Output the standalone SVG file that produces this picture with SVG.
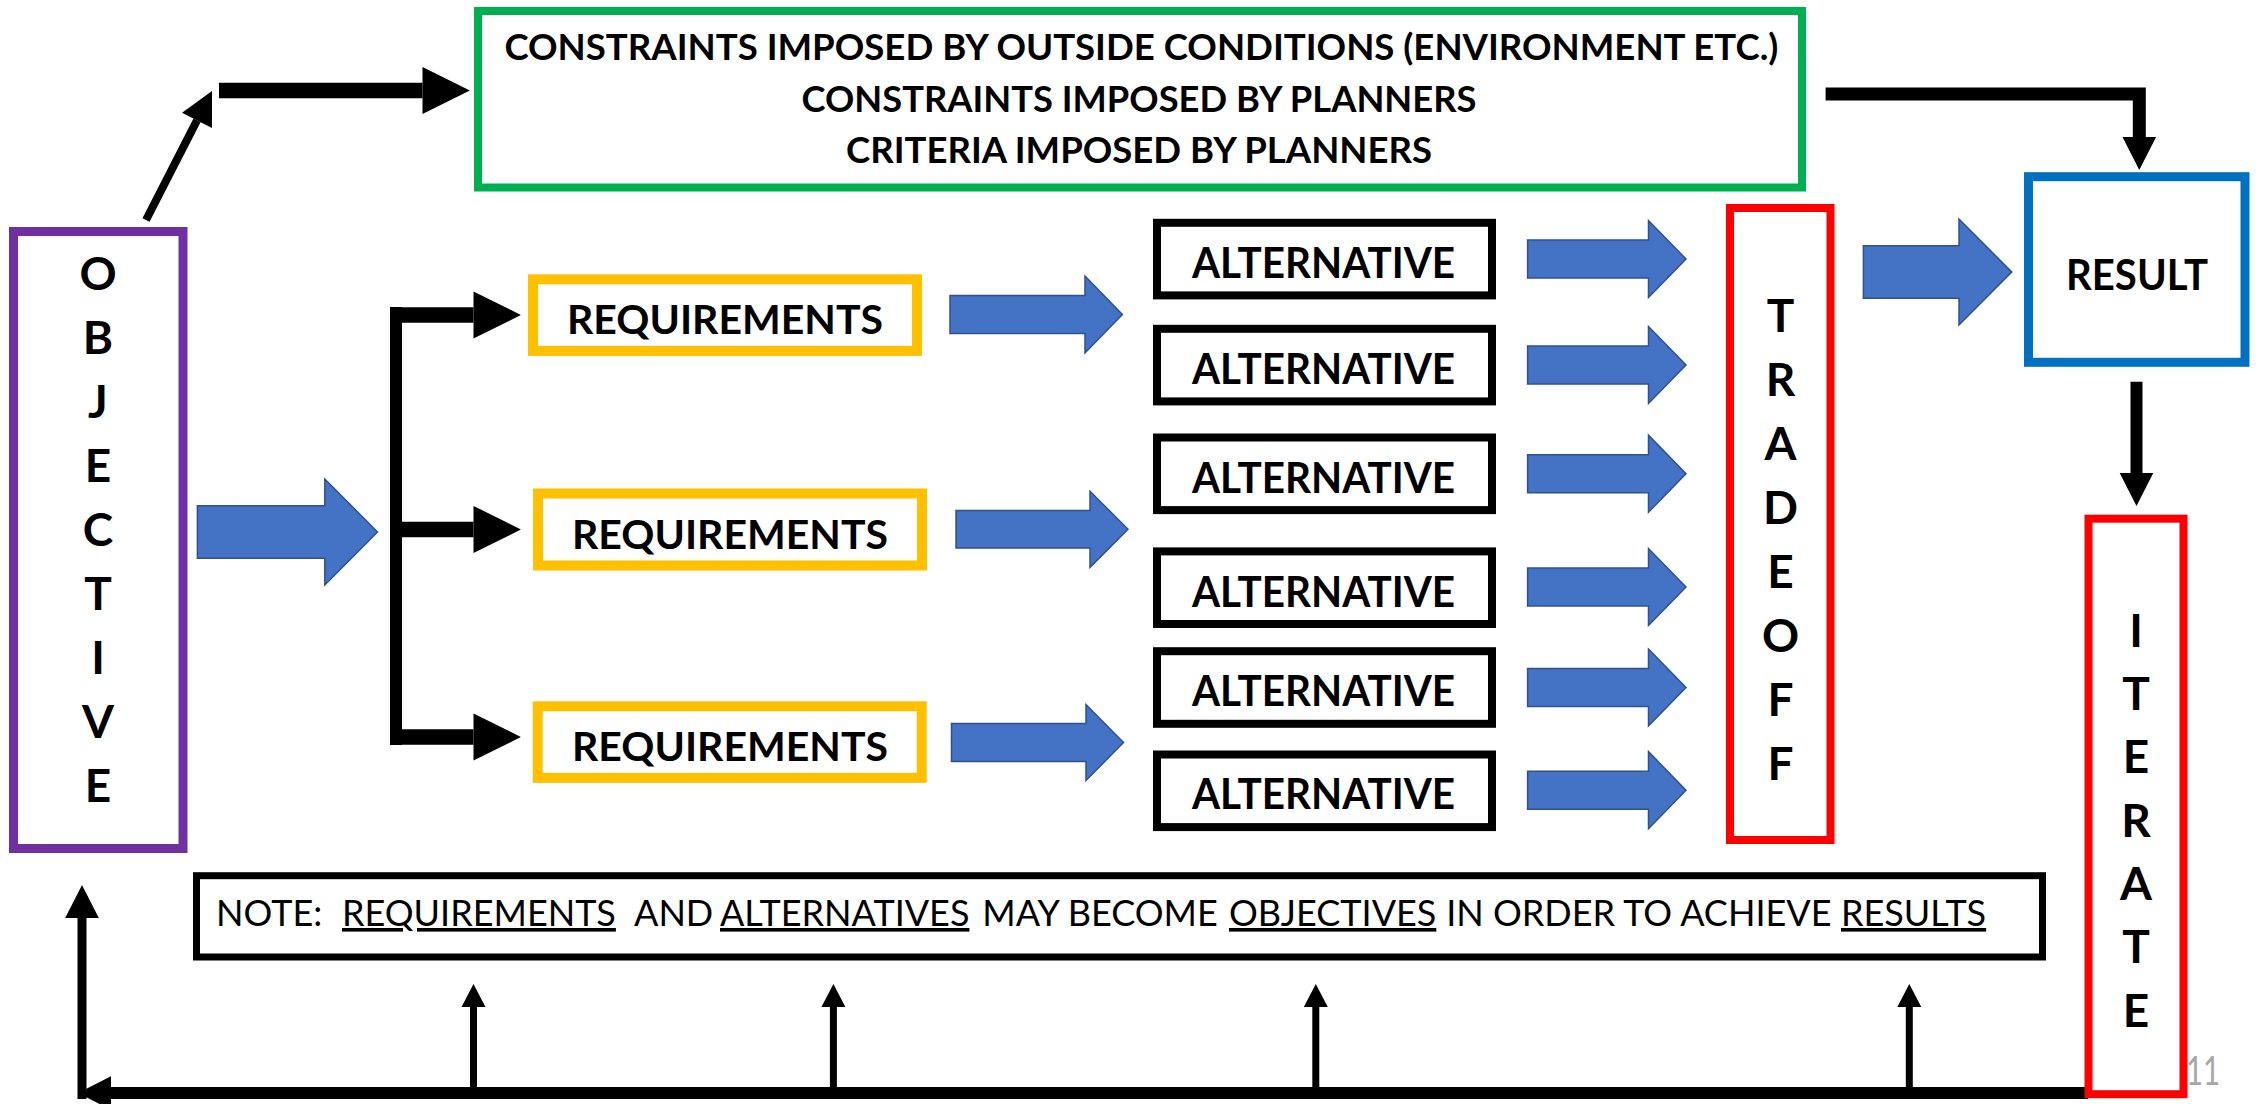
<svg xmlns="http://www.w3.org/2000/svg" xmlns:xlink="http://www.w3.org/1999/xlink" width="2259" height="1104" viewBox="0 0 2259 1104">
<style>
.bx{fill:#ffffff}
.t{font-family:Lato,"Liberation Sans",Arial,sans-serif;fill:#000}
.b{font-weight:bold}
.let{font-family:Lato,"Liberation Sans",Arial,sans-serif;font-weight:bold;font-size:46px;text-anchor:middle;fill:#000}
.ln{fill:none;stroke:#000;stroke-linejoin:miter}
.blue{fill:#4472C4;stroke:#2F528F;stroke-width:1.5}
.u{text-decoration:underline}
</style>
<defs>
<marker id="hL" markerUnits="userSpaceOnUse" markerWidth="50" markerHeight="50" viewBox="0 -25 50 50" refX="0" refY="0" orient="auto" overflow="visible"><path d="M0,-23.6 L47.4,0 L0,23.6 Z" fill="#000"/></marker>
<marker id="hM" markerUnits="userSpaceOnUse" markerWidth="36" markerHeight="36" viewBox="0 -18 36 36" refX="0" refY="0" orient="auto" overflow="visible"><path d="M0,-16.8 L33,0 L0,16.8 Z" fill="#000"/></marker>
<marker id="hS" markerUnits="userSpaceOnUse" markerWidth="26" markerHeight="26" viewBox="0 -13 26 26" refX="0" refY="0" orient="auto" overflow="visible"><path d="M0,-12 L23,0 L0,12 Z" fill="#000"/></marker>
<path id="altArrow" d="M1527.6,-19 H1648.5 V-38.5 L1686,0 L1648.5,38.5 V19 H1527.6 Z"/>
</defs>

<g id="page-number">
<text class="t" x="2186" y="1085" font-size="40" fill="#A6A6A6" style="fill:#A6A6A6" textLength="34" lengthAdjust="spacingAndGlyphs">11</text>
</g>

<g id="connectors">
<path class="ln" d="M146,220 L197,120.4" stroke-width="8" marker-end="url(#hM)"/>
<path class="ln" d="M219,90.5 H422.5" stroke-width="15.6" marker-end="url(#hL)"/>
<path class="ln" d="M1825.6,94 H2139.3 V137" stroke-width="13" marker-end="url(#hM)"/>
<path class="ln" d="M2136.5,381.8 V473" stroke-width="12" marker-end="url(#hM)"/>
<path class="ln" d="M396,307 V745" stroke-width="12"/>
<path class="ln" d="M390,315 H473.5" stroke-width="15.5" marker-end="url(#hL)"/>
<path class="ln" d="M390,529.5 H473.5" stroke-width="15.5" marker-end="url(#hL)"/>
<path class="ln" d="M390,737 H473.5" stroke-width="15.5" marker-end="url(#hL)"/>
<path class="ln" d="M2088,1093 H111" stroke-width="12" marker-end="url(#hM)"/>
<path class="ln" d="M82,1099 V918" stroke-width="9" marker-end="url(#hM)"/>
<path class="ln" d="M473.5,1088 V1007" stroke-width="7" marker-end="url(#hS)"/>
<path class="ln" d="M833.4,1088 V1007" stroke-width="7" marker-end="url(#hS)"/>
<path class="ln" d="M1315.8,1088 V1007" stroke-width="7" marker-end="url(#hS)"/>
<path class="ln" d="M1909.3,1088 V1007" stroke-width="7" marker-end="url(#hS)"/>
<polygon class="blue" points="197.4,505.65 324.8,505.65 324.8,479 377.5,532 324.8,585 324.8,558.35 197.4,558.35"/>
<polygon class="blue" points="1863.4,245.7 1959,245.7 1959,219 2011.8,272 1959,325 1959,298.3 1863.4,298.3"/>
<polygon class="blue" points="950,295.6 1085,295.6 1085,276 1122.4,314.5 1085,353 1085,333.4 950,333.4"/>
<polygon class="blue" points="956,510.6 1090,510.6 1090,491.2 1128,529.3 1090,567.4 1090,548 956,548"/>
<polygon class="blue" points="951.5,723.6 1086,723.6 1086,704.5 1123.5,742.5 1086,780.5 1086,761.4 951.5,761.4"/>
<use xlink:href="#altArrow" class="blue" y="259"/>
<use xlink:href="#altArrow" class="blue" y="365"/>
<use xlink:href="#altArrow" class="blue" y="473.7"/>
<use xlink:href="#altArrow" class="blue" y="587"/>
<use xlink:href="#altArrow" class="blue" y="687.5"/>
<use xlink:href="#altArrow" class="blue" y="790.2"/>
</g>

<g id="constraints">
<rect class="bx" x="478" y="11" width="1324" height="176.5" stroke="#00B050" stroke-width="8"/>
<text class="t b" x="504.4" y="60" font-size="37" textLength="1274" lengthAdjust="spacingAndGlyphs">CONSTRAINTS IMPOSED BY OUTSIDE CONDITIONS (ENVIRONMENT ETC.)</text>
<text class="t b" x="801.5" y="111.5" font-size="37" textLength="675" lengthAdjust="spacingAndGlyphs">CONSTRAINTS IMPOSED BY PLANNERS</text>
<text class="t b" x="846" y="162.7" font-size="37" textLength="586" lengthAdjust="spacingAndGlyphs">CRITERIA IMPOSED BY PLANNERS</text>
</g>

<g id="objective">
<rect class="bx" x="13.5" y="231.5" width="169.5" height="617" stroke="#7030A0" stroke-width="9"/>
<text class="let" x="98" y="290">O</text>
<text class="let" x="98" y="354">B</text>
<text class="let" x="98" y="418">J</text>
<text class="let" x="98" y="482">E</text>
<text class="let" x="98" y="546">C</text>
<text class="let" x="98" y="610">T</text>
<text class="let" x="98" y="674">I</text>
<text class="let" x="98" y="738">V</text>
<text class="let" x="98" y="802">E</text>
</g>

<g id="requirements-1">
<rect class="bx" x="533" y="279.3" width="384" height="71.6" stroke="#FFC000" stroke-width="10"/>
<text class="t b" x="567" y="334" font-size="41" textLength="316" lengthAdjust="spacingAndGlyphs">REQUIREMENTS</text>
</g>
<g id="requirements-2">
<rect class="bx" x="538" y="493.5" width="384" height="72" stroke="#FFC000" stroke-width="10"/>
<text class="t b" x="572" y="549.3" font-size="41" textLength="316" lengthAdjust="spacingAndGlyphs">REQUIREMENTS</text>
</g>
<g id="requirements-3">
<rect class="bx" x="537.7" y="706.3" width="384" height="71.6" stroke="#FFC000" stroke-width="10"/>
<text class="t b" x="572" y="761" font-size="41" textLength="316" lengthAdjust="spacingAndGlyphs">REQUIREMENTS</text>
</g>

<g id="alternative-1">
<rect class="bx" x="1157" y="222.8" width="335" height="72.6" stroke="#000" stroke-width="8"/>
<text class="t b" x="1192" y="278" font-size="42" textLength="263" lengthAdjust="spacingAndGlyphs">ALTERNATIVE</text>
</g>
<g id="alternative-2">
<rect class="bx" x="1157" y="328.8" width="335" height="72.6" stroke="#000" stroke-width="8"/>
<text class="t b" x="1192" y="384" font-size="42" textLength="263" lengthAdjust="spacingAndGlyphs">ALTERNATIVE</text>
</g>
<g id="alternative-3">
<rect class="bx" x="1157" y="437.5" width="335" height="72.6" stroke="#000" stroke-width="8"/>
<text class="t b" x="1192" y="492.7" font-size="42" textLength="263" lengthAdjust="spacingAndGlyphs">ALTERNATIVE</text>
</g>
<g id="alternative-4">
<rect class="bx" x="1157" y="551.4" width="335" height="72.6" stroke="#000" stroke-width="8"/>
<text class="t b" x="1192" y="606.6" font-size="42" textLength="263" lengthAdjust="spacingAndGlyphs">ALTERNATIVE</text>
</g>
<g id="alternative-5">
<rect class="bx" x="1157" y="651.2" width="335" height="72.6" stroke="#000" stroke-width="8"/>
<text class="t b" x="1192" y="706.4" font-size="42" textLength="263" lengthAdjust="spacingAndGlyphs">ALTERNATIVE</text>
</g>
<g id="alternative-6">
<rect class="bx" x="1157" y="754.5" width="335" height="72.6" stroke="#000" stroke-width="8"/>
<text class="t b" x="1192" y="809" font-size="42" textLength="263" lengthAdjust="spacingAndGlyphs">ALTERNATIVE</text>
</g>

<g id="tradeoff">
<rect class="bx" x="1730" y="208" width="100.5" height="632" stroke="#FF0000" stroke-width="8"/>
<text class="let" x="1780.5" y="331.5">T</text>
<text class="let" x="1780.5" y="395.5">R</text>
<text class="let" x="1780.5" y="459.5">A</text>
<text class="let" x="1780.5" y="523.5">D</text>
<text class="let" x="1780.5" y="587.5">E</text>
<text class="let" x="1780.5" y="651.5">O</text>
<text class="let" x="1780.5" y="715.5">F</text>
<text class="let" x="1780.5" y="779.5">F</text>
</g>

<g id="result">
<rect class="bx" x="2028.5" y="176.7" width="216.5" height="185.6" stroke="#0070C0" stroke-width="9"/>
<text class="t b" x="2066" y="289.5" font-size="42" textLength="142" lengthAdjust="spacingAndGlyphs">RESULT</text>
</g>

<g id="iterate">
<rect class="bx" x="2088.5" y="518.7" width="95" height="575.5" stroke="#FF0000" stroke-width="8"/>
<text class="let" x="2136" y="646.7">I</text>
<text class="let" x="2136" y="710">T</text>
<text class="let" x="2136" y="773.3">E</text>
<text class="let" x="2136" y="836.5">R</text>
<text class="let" x="2136" y="900">A</text>
<text class="let" x="2136" y="963.2">T</text>
<text class="let" x="2136" y="1026.5">E</text>
</g>

<g id="note">
<rect class="bx" x="196.5" y="875.7" width="1846" height="81.3" stroke="#000" stroke-width="7"/>
<text class="t" x="216" y="926" font-size="36" xml:space="preserve">NOTE:  <tspan class="u" x="342">REQUIREMENTS</tspan><tspan x="626"> AND </tspan><tspan class="u" x="720">ALTERNATIVES</tspan><tspan x="973"> MAY BECOME </tspan><tspan class="u" x="1229">OBJECTIVES</tspan><tspan x="1437"> IN ORDER TO ACHIEVE </tspan><tspan class="u" x="1841">RESULTS</tspan></text>
</g>
</svg>
